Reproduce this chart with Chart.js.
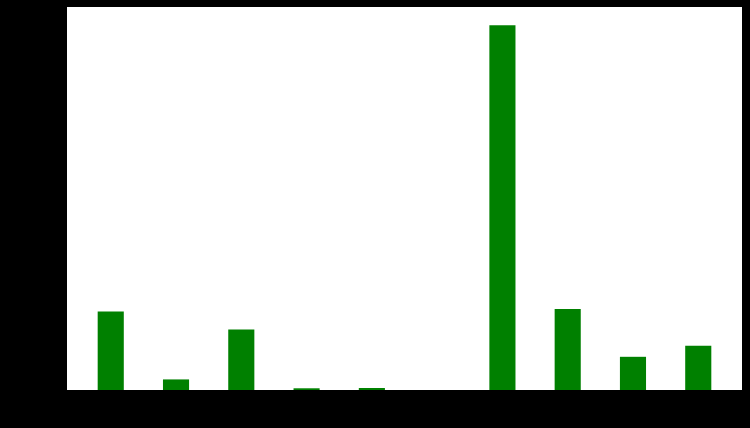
<!DOCTYPE html>
<html>
<head>
<meta charset="utf-8">
<script src="https://cdn.jsdelivr.net/npm/chart.js@4"></script>
<style>
  html, body { margin: 0; padding: 0; background: #000; }
  #wrap { width: 750px; height: 428px; }
</style>
</head>
<body>
<div id="wrap"><canvas id="c" width="750" height="428"></canvas></div>
<script>
// Data (tick labels are black-on-black and unreadable)
const categories = [0, 1, 2, 3, 4, 5, 6, 7, 8, 9];
const values = [215, 29, 166, 4.7, 5.5, 0, 1000, 222, 91, 121];

const points = categories.map((c, i) => ({ x: c, y: values[i] }));

const bgPlugin = {
  id: 'bg',
  beforeDraw(chart) {
    const { ctx, chartArea: a } = chart;
    ctx.save();
    ctx.fillStyle = '#000';
    ctx.fillRect(0, 0, chart.width, chart.height);
    ctx.fillStyle = '#fff';
    ctx.fillRect(a.left, a.top, a.right - a.left, a.bottom - a.top);
    ctx.restore();
  }
};

new Chart(document.getElementById('c'), {
  type: 'bar',
  data: {
    datasets: [{
      data: points,
      backgroundColor: '#008000',
      borderWidth: 0,
      barPercentage: 0.4,
      categoryPercentage: 1.0
    }]
  },
  options: {
    responsive: false,
    animation: false,
    layout: { padding: { left: 67, top: 7, right: 8, bottom: 38 } },
    plugins: { legend: { display: false }, tooltip: { enabled: false } },
    scales: {
      x: { type: 'linear', min: -0.67, max: 9.67, display: false, offset: false },
      y: { min: 0, max: 1050, display: false }
    }
  },
  plugins: [bgPlugin]
});
</script>
</body>
</html>
